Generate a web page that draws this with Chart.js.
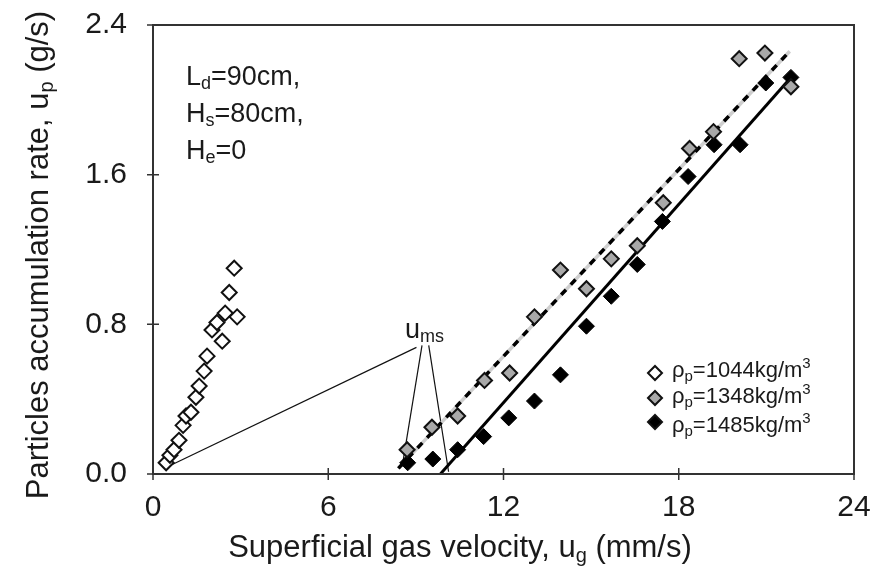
<!DOCTYPE html>
<html>
<head>
<meta charset="utf-8">
<title>Particles accumulation rate</title>
<script src="https://cdn.jsdelivr.net/npm/chart.js@4.4.1/dist/chart.umd.min.js"></script>
<style>
  html, body { margin: 0; padding: 0; background: #fff; }
</style>
</head>
<body>
<canvas id="chart" width="876" height="578"></canvas>
<script>
// axis ticks
var xTicks = [0, 6, 12, 18, 24];
var yTicks = [0, 0.8, 1.6, 2.4];

// rho_p = 1044 kg/m3 (open diamonds)
var ug1044 = [0.45, 0.58, 0.72, 0.89, 1.03, 1.13, 1.30, 1.47, 1.58, 1.75, 1.85, 2.02, 2.19, 2.37, 2.47, 2.61, 2.78, 2.88];
var up1044 = [0.06, 0.10, 0.13, 0.18, 0.26, 0.31, 0.33, 0.41, 0.47, 0.55, 0.63, 0.77, 0.81, 0.71, 0.86, 0.97, 1.10, 0.84];

// rho_p = 1348 kg/m3 (grey diamonds)
var ug1348 = [8.70, 9.55, 10.43, 11.35, 12.21, 13.06, 13.95, 14.84, 15.69, 16.58, 17.47, 18.37, 19.19, 20.07, 20.95, 21.84];
var up1348 = [0.13, 0.25, 0.31, 0.50, 0.54, 0.84, 1.09, 0.99, 1.15, 1.22, 1.45, 1.74, 1.83, 2.22, 2.25, 2.07];

// rho_p = 1485 kg/m3 (black diamonds)
var ug1485 = [8.72, 9.58, 10.43, 11.32, 12.18, 13.06, 13.95, 14.84, 15.69, 16.58, 17.44, 18.32, 19.21, 20.10, 20.98, 21.84];
var up1485 = [0.06, 0.08, 0.13, 0.20, 0.30, 0.39, 0.53, 0.79, 0.95, 1.12, 1.35, 1.59, 1.76, 1.76, 2.09, 2.12];

// fitted lines
var fitDashX = [8.4, 21.8];
var fitDashY = [0.03, 2.26];
var fitSolidX = [9.84, 21.84];
var fitSolidY = [0, 2.12];

// u_ms leader lines (from label to intercepts)
var leaderX = [[9.02, 0.41], [9.21, 8.53], [9.44, 10.12]];
var leaderY = [[0.677, 0.032], [0.688, 0.039], [0.688, 0.012]];

var FONT = '"Liberation Sans", Arial, Helvetica, sans-serif';

function pts(xs, ys) {
  return xs.map(function(x, i) { return { x: x, y: ys[i] }; });
}

function drawParts(ctx, parts, x, y, size, align) {
  var small = Math.round(size * 0.66);
  var total = 0;
  parts.forEach(function(p) {
    ctx.font = ((p.sub || p.sup) ? small : size) + 'px ' + FONT;
    p.w = ctx.measureText(p.t).width;
    total += p.w;
  });
  var cx = align === 'center' ? x - total / 2 : x;
  parts.forEach(function(p) {
    ctx.font = ((p.sub || p.sup) ? small : size) + 'px ' + FONT;
    var dy = p.sub ? size * 0.16 : (p.sup ? -size * 0.4 : 0);
    ctx.fillText(p.t, cx, y + dy);
    cx += p.w;
  });
}

function diamond(ctx, x, y, r, fill) {
  ctx.beginPath();
  ctx.moveTo(x - r, y);
  ctx.lineTo(x, y - r);
  ctx.lineTo(x + r, y);
  ctx.lineTo(x, y + r);
  ctx.closePath();
  ctx.fillStyle = fill;
  ctx.fill();
  ctx.lineWidth = 2;
  ctx.strokeStyle = '#111';
  ctx.stroke();
}

var extras = {
  id: 'extras',
  afterDraw: function(chart) {
    var ctx = chart.ctx;
    var a = chart.chartArea;
    var xs = chart.scales.x, ys = chart.scales.y;
    ctx.save();

    // frame
    ctx.strokeStyle = '#333';
    ctx.lineWidth = 2;
    ctx.strokeRect(a.left, a.top, a.right - a.left, a.bottom - a.top);

    // tick marks crossing the axes
    ctx.lineWidth = 1.5;
    ctx.beginPath();
    xTicks.forEach(function(v) {
      var px = xs.getPixelForValue(v);
      ctx.moveTo(px, a.bottom - 6);
      ctx.lineTo(px, a.bottom + 6);
    });
    yTicks.forEach(function(v) {
      var py = ys.getPixelForValue(v);
      ctx.moveTo(a.left - 6, py);
      ctx.lineTo(a.left + 6, py);
    });
    ctx.stroke();

    ctx.fillStyle = '#1a1a1a';
    ctx.textBaseline = 'alphabetic';
    ctx.textAlign = 'left';

    // axis titles
    drawParts(ctx, [{ t: 'Superficial gas velocity, u' }, { t: 'g', sub: true }, { t: ' (mm/s)' }], 460, 557, 31, 'center');
    ctx.save();
    ctx.translate(48, 255);
    ctx.rotate(-Math.PI / 2);
    drawParts(ctx, [{ t: 'Particles accumulation rate, u' }, { t: 'p', sub: true }, { t: ' (g/s)' }], 0, 0, 31, 'center');
    ctx.restore();

    // conditions
    drawParts(ctx, [{ t: 'L' }, { t: 'd', sub: true }, { t: '=90cm,' }], 186, 85, 27);
    drawParts(ctx, [{ t: 'H' }, { t: 's', sub: true }, { t: '=80cm,' }], 186, 122, 27);
    drawParts(ctx, [{ t: 'H' }, { t: 'e', sub: true }, { t: '=0' }], 186, 159, 27);

    // u_ms label
    drawParts(ctx, [{ t: 'u' }, { t: 'ms', sub: true }], 405, 338, 27);

    // legend
    var lx = 655, rows = [373, 398, 422], base = [377, 403, 432];
    var fills = ['#ffffff', '#a9a9a9', '#000000'];
    var names = ['=1044kg/m', '=1348kg/m', '=1485kg/m'];
    rows.forEach(function(ry, i) {
      diamond(ctx, lx, ry, 7, fills[i]);
      ctx.fillStyle = '#1a1a1a';
      drawParts(ctx, [{ t: 'ρ' }, { t: 'p', sub: true }, { t: names[i] }, { t: '3', sup: true }], 672, base[i], 22);
    });

    ctx.restore();
  }
};

var ctx = document.getElementById('chart').getContext('2d');
var chart = new Chart(ctx, {
  type: 'scatter',
  data: {
    datasets: [
      {
        label: 'ρp=1044kg/m3',
        data: pts(ug1044, up1044),
        pointStyle: 'rectRot',
        pointRadius: 7.5,
        pointBackgroundColor: '#ffffff',
        pointBorderColor: '#111',
        pointBorderWidth: 2,
        order: 1
      },
      {
        label: 'ρp=1348kg/m3',
        data: pts(ug1348, up1348),
        pointStyle: 'rectRot',
        pointRadius: 7.5,
        pointBackgroundColor: '#a9a9a9',
        pointBorderColor: '#111',
        pointBorderWidth: 2,
        order: 1
      },
      {
        label: 'ρp=1485kg/m3',
        data: pts(ug1485, up1485),
        pointStyle: 'rectRot',
        pointRadius: 8,
        pointBackgroundColor: '#000',
        pointBorderColor: '#000',
        pointBorderWidth: 1,
        order: 1
      },
      {
        label: 'fit 1348 (under)',
        data: pts(fitDashX, fitDashY),
        showLine: true,
        borderColor: '#cfcfcf',
        borderWidth: 3.5,
        pointRadius: 0,
        order: 4
      },
      {
        label: 'fit 1348',
        data: pts(fitDashX, fitDashY),
        showLine: true,
        borderColor: '#000',
        borderWidth: 3.5,
        borderDash: [7, 7],
        pointRadius: 0,
        order: 3
      },
      {
        label: 'fit 1485',
        data: pts(fitSolidX, fitSolidY),
        showLine: true,
        borderColor: '#000',
        borderWidth: 3,
        pointRadius: 0,
        order: 3
      }
    ].concat(leaderX.map(function(lx, i) {
      return {
        label: 'u_ms ' + i,
        data: pts(lx, leaderY[i]),
        showLine: true,
        borderColor: '#111',
        borderWidth: 1.2,
        pointRadius: 0,
        order: 5
      };
    }))
  },
  options: {
    responsive: false,
    animation: false,
    devicePixelRatio: 1,
    layout: { padding: { top: 25, right: 22, left: 0, bottom: 0 } },
    plugins: {
      legend: { display: false },
      tooltip: { enabled: false }
    },
    scales: {
      x: {
        type: 'linear',
        min: 0,
        max: 24,
        afterBuildTicks: function(s) { s.ticks = xTicks.map(function(v) { return { value: v }; }); },
        afterFit: function(s) { s.height = 104; s.paddingLeft = 0; s.paddingRight = 0; },
        ticks: { font: { size: 30, family: FONT }, color: '#1a1a1a', padding: 16, maxRotation: 0 },
        grid: { display: false, drawTicks: false },
        border: { display: false }
      },
      y: {
        type: 'linear',
        min: 0,
        max: 2.4,
        afterBuildTicks: function(s) { s.ticks = yTicks.map(function(v) { return { value: v }; }); },
        afterFit: function(s) { s.width = 153; s.paddingTop = 0; s.paddingBottom = 0; },
        ticks: {
          font: { size: 30, family: FONT },
          color: '#1a1a1a',
          padding: 26,
          callback: function(v) { return v.toFixed(1); }
        },
        grid: { display: false, drawTicks: false },
        border: { display: false }
      }
    }
  },
  plugins: [extras]
});
</script>
</body>
</html>
